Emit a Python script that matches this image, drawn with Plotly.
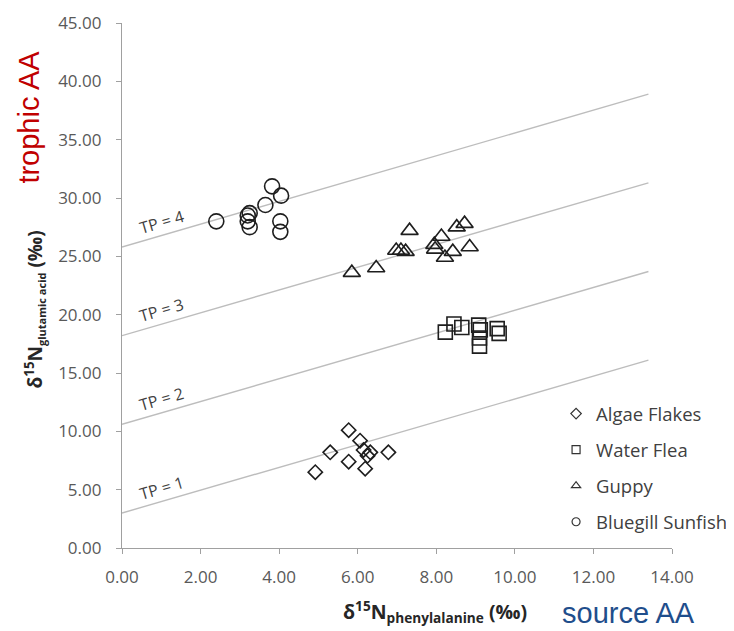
import plotly.graph_objects as go

# ---- data ----
algae_x = [4.92, 5.30, 5.77, 6.06, 5.77, 6.19, 6.15, 6.25, 6.32, 6.78]
algae_y = [6.5, 8.2, 10.1, 9.2, 7.4, 6.8, 8.4, 7.9, 8.2, 8.2]

flea_x = [8.23, 8.45, 8.65, 9.08, 9.12, 9.10, 9.10, 9.55, 9.60]
flea_y = [18.5, 19.2, 18.9, 19.1, 18.7, 18.0, 17.3, 18.8, 18.4]

guppy_x = [5.85, 6.47, 6.98, 7.10, 7.22, 7.32, 7.95, 7.97, 8.13, 8.22, 8.42, 8.52, 8.72, 8.85]
guppy_y = [23.6, 24.0, 25.5, 25.5, 25.4, 27.2, 26.0, 25.6, 26.7, 24.9, 25.4, 27.5, 27.8, 25.8]

sunfish_x = [2.40, 3.20, 3.25, 3.20, 3.25, 3.65, 3.82, 4.05, 4.03, 4.03]
sunfish_y = [28.0, 28.5, 28.7, 28.0, 27.5, 29.4, 31.0, 30.2, 28.0, 27.1]

# trophic-position reference lines: end points
tp_levels = [1, 2, 3, 4]
tp_x = [0.0, 13.4]
tp_y_start = [3.0, 10.6, 18.2, 25.8]
tp_y_end = [16.1, 23.7, 31.3, 38.9]

x_ticks = [0, 2, 4, 6, 8, 10, 12, 14]
y_ticks = [0, 5, 10, 15, 20, 25, 30, 35, 40, 45]

series = [
    ("Algae Flakes", algae_x, algae_y, "diamond-open", 11),
    ("Water Flea", flea_x, flea_y, "square-open", 14),
    ("Guppy", guppy_x, guppy_y, "triangle-up-open", 15),
    ("Bluegill Sunfish", sunfish_x, sunfish_y, "circle-open", 15),
]

FONT = "Open Sans"
MARK = "#1e1e1e"

# page offset of the figure (body margin) and target plot box in page pixels
OFF = 8
FIG_W, FIG_H = 726, 623
PX0, PX1, PY0, PY1 = 121.7, 672.0, 22.7, 548.0


def px(x):
    return (x - PX0) / (PX1 - PX0)


def py(y):
    return (PY1 - y) / (PY1 - PY0)


fig = go.Figure()

# TP lines
for lvl, y0, y1 in zip(tp_levels, tp_y_start, tp_y_end):
    fig.add_trace(go.Scatter(x=tp_x, y=[y0, y1], mode="lines",
                             line=dict(color="#BDBDBD", width=1.4),
                             showlegend=False, hoverinfo="skip"))

# data markers
for name, xs, ys, sym, sz in series:
    fig.add_trace(go.Scatter(x=xs, y=ys, mode="markers", name=name,
                             marker=dict(symbol=sym, size=sz, color=MARK,
                                         line=dict(width=1.6, color=MARK)),
                             showlegend=False))
    fig.add_trace(go.Scatter(x=[None], y=[None], mode="markers", name=name,
                             legendgroup=name,
                             marker=dict(symbol=sym, size=8, color="#333333",
                                         line=dict(width=1.2, color="#333333")),
                             showlegend=True))

# TP labels (placed just above each line near x = 1)
LX = 1.0
for lvl, y0, y1 in zip(tp_levels, tp_y_start, tp_y_end):
    y_line = y0 + (y1 - y0) * (LX - tp_x[0]) / (tp_x[1] - tp_x[0])
    fig.add_annotation(x=LX, y=y_line + 1.2, xref="x", yref="y",
                       xanchor="center", yanchor="middle",
                       text=f"TP = {lvl}", showarrow=False, textangle=-16.3,
                       font=dict(family=FONT, size=16, color="#404040"))

# axis titles
fig.add_annotation(xref="paper", yref="paper", x=px(435), y=py(612),
                   xanchor="center", yanchor="middle",
                   text="<b>δ<sup>15</sup>N<sub>phenylalanine</sub> (‰)</b>", showarrow=False,
                   font=dict(family=FONT, size=19.5, color="#262626"))
fig.add_annotation(xref="paper", yref="paper", x=px(34), y=py(309),
                   xanchor="center", yanchor="middle",
                   text="<b>δ<sup>15</sup>N<sub><span style='font-size:11px'>glutamic acid</span></sub> (‰)</b>",
                   showarrow=False, textangle=-90,
                   font=dict(family=FONT, size=19, color="#262626"))

# extra labels
fig.add_annotation(xref="paper", yref="paper", x=px(628), y=py(613),
                   xanchor="center", yanchor="middle",
                   text="source AA", showarrow=False,
                   font=dict(family="Liberation Sans", size=29, color="#1F4E8C"))
fig.add_annotation(xref="paper", yref="paper", x=px(29), y=py(117),
                   xanchor="center", yanchor="middle",
                   text="trophic AA", showarrow=False, textangle=-90,
                   font=dict(family="Liberation Sans", size=29, color="#C00000"))

axis_common = dict(showgrid=False, zeroline=False, showline=True, linecolor="#A0A0A0",
                   linewidth=1.2, ticks="outside", ticklen=5, tickcolor="#A0A0A0",
                   tickformat=".2f", automargin=False,
                   tickfont=dict(family=FONT, size=17, color="#595959"))

fig.update_xaxes(range=[0, 14], tickvals=x_ticks, ticklabelstandoff=8, **axis_common)
fig.update_yaxes(range=[0, 45], tickvals=y_ticks, ticklabelstandoff=11, **axis_common)

fig.update_layout(
    width=FIG_W, height=FIG_H,
    margin=dict(l=PX0 - OFF, r=OFF + FIG_W - PX1, t=PY0 - OFF, b=FIG_H - (PY1 - OFF),
                autoexpand=False),
    paper_bgcolor="white", plot_bgcolor="white",
    legend=dict(x=px(556), y=py(395), xanchor="left", yanchor="top",
                font=dict(family=FONT, size=18.5, color="#404040"),
                tracegroupgap=9, bgcolor="rgba(0,0,0,0)"),
)

fig.write_html("out.html")
